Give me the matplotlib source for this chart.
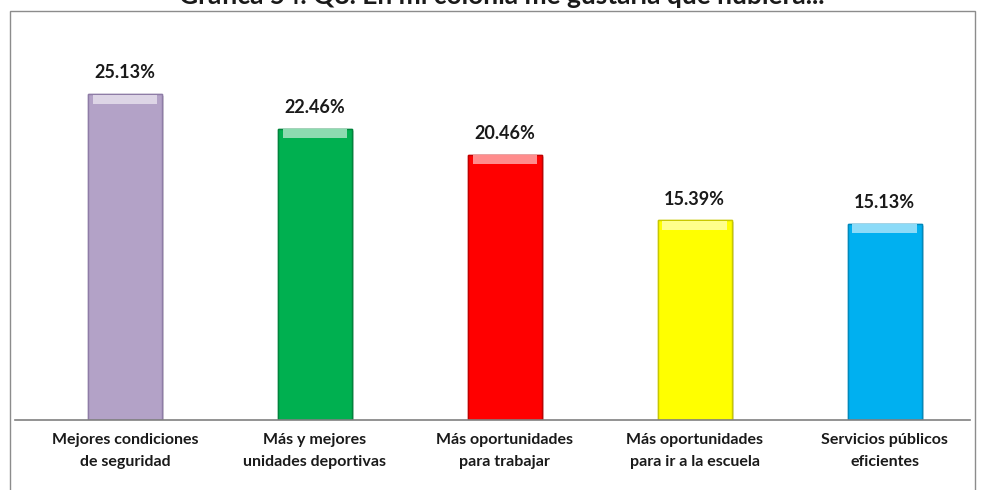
import matplotlib
matplotlib.use("Agg")
import matplotlib.pyplot as plt
from matplotlib.patches import Rectangle
from matplotlib.colors import to_rgb
import matplotlib.patheffects as pe

categories = ["Mejores condiciones\nde seguridad",
              "Más y mejores\nunidades deportivas",
              "Más oportunidades\npara trabajar",
              "Más oportunidades\npara ir a la escuela",
              "Servicios públicos\neficientes"]
values = [25.13, 22.46, 20.46, 15.39, 15.13]
value_labels = ["25.13%", "22.46%", "20.46%", "15.39%", "15.13%"]
colors = ["#B3A2C7", "#00B050", "#FF0000", "#FFFF00", "#00B0F0"]
edges = ["#8E7CA6", "#00843C", "#C00000", "#C8C800", "#0089BC"]
title = "Gráfica 54. Q8. En mi colonia me gustaría que hubiera..."

W, H = 985, 490
fig = plt.figure(figsize=(W/100, H/100), dpi=100)
fig.patch.set_facecolor("white")

fig.add_artist(Rectangle((10/W, -0.05), (975-10)/W, (H-11)/H + 0.05, transform=fig.transFigure,
                         fill=False, edgecolor="#8C8C8C", linewidth=1))

ax = fig.add_axes([15/W, (H-420)/H, (970-15)/W, (420-12)/H])
x = list(range(len(values)))
bars = ax.bar(x, values, width=0.39, color=colors, edgecolor=edges, linewidth=1.0, zorder=2)
for b in bars:
    b.set_path_effects([pe.withSimplePatchShadow(offset=(1.5, -1.5), shadow_rgbFace="#C8C8C8", alpha=0.6), pe.Normal()])

# bevel highlight at top of each bar
light = [tuple(0.55 + 0.45 * c for c in to_rgb(col)) for col in colors]
ax.bar(x, [0.7] * len(values), bottom=[v - 0.75 for v in values], width=0.34,
       color=light, linewidth=0, zorder=3)

ax.set_xlim(-0.58, 4.45)
ax.set_ylim(0, 31.45)
for s in ["top", "right", "left"]:
    ax.spines[s].set_visible(False)
ax.spines["bottom"].set_color("#808080")
ax.spines["bottom"].set_linewidth(1.2)
ax.set_yticks([])
ax.set_xticks(x)
ax.set_xticklabels(categories, fontsize=11.5, fontweight="bold", family=["Lato", "DejaVu Sans"],
                   linespacing=1.75, color="#1a1a1a")
ax.tick_params(axis="x", length=0, pad=9)

for xi, v, lab in zip(x, values, value_labels):
    ax.annotate(lab, (xi, v), xytext=(0, 9), textcoords="offset points", ha="center", va="bottom",
                fontsize=13, fontweight="bold", family=["Lato", "DejaVu Sans"], color="#1a1a1a")

fig.text(502/W, 1 - 4/H, title, ha="center", va="baseline", fontsize=19, fontweight="bold",
         family=["Lato", "DejaVu Sans"], color="#1a1a1a")

fig.savefig("out.png", dpi=100)
